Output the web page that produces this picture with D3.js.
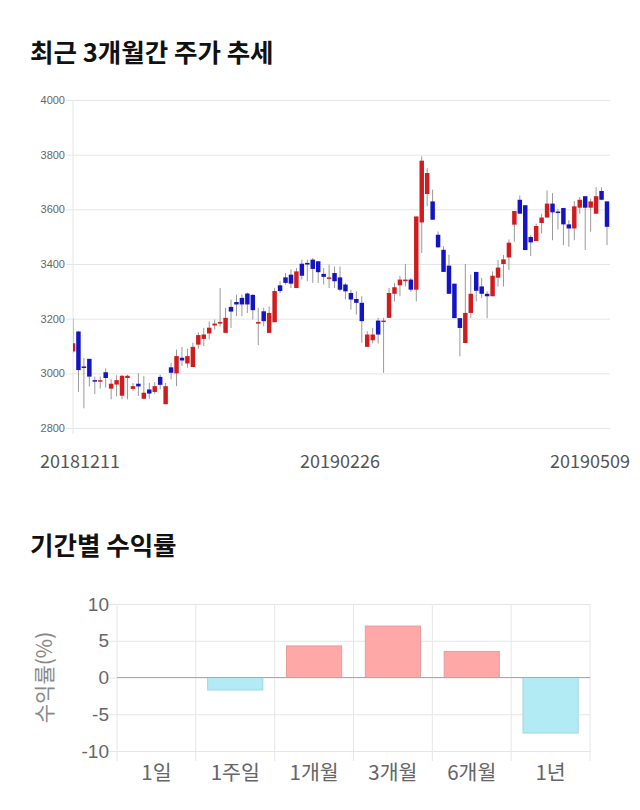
<!DOCTYPE html>
<html><head><meta charset="utf-8">
<script src="https://cdn.jsdelivr.net/npm/d3@7"></script>
<style>body{margin:0;background:#fff}svg{display:block}</style>
</head><body>
<svg id="c" width="640" height="810"></svg>
<script>
// ---- candle data ----
const dates = ["20181211","20181212","20181213","20181214","20181217","20181218","20181219","20181220","20181221","20181224","20181226","20181227","20181228",
"20190102","20190103","20190104","20190107","20190108","20190109","20190110","20190111","20190114","20190115","20190116","20190117","20190118","20190121","20190122","20190123","20190124","20190125","20190128","20190129","20190130","20190131",
"20190201","20190207","20190208","20190211","20190212","20190213","20190214","20190215","20190218","20190219","20190220","20190221","20190222","20190225","20190226","20190227","20190228",
"20190304","20190305","20190306","20190307","20190308","20190311","20190312","20190313","20190314","20190315","20190318","20190319","20190320","20190321","20190322","20190325","20190326","20190327","20190328","20190329",
"20190401","20190402","20190403","20190404","20190405","20190408","20190409","20190410","20190411","20190412","20190415","20190416","20190417","20190418","20190419","20190422","20190423","20190424","20190425","20190426","20190429","20190430",
"20190502","20190503","20190507","20190508","20190509"];
const open  = [3080,3153,3025,3053,2975,2970,3004,2944,2959,2918,2983,2943,2962,2907,2941,2932,2987,2887,3022,3000,3057,3036,3023,3105,3126,3146,3175,3182,3148,3243,3261,3276,3292,3287,3182,3227,3148,3187,3322,3351,3361,3312,3401,3404,3416,3410,3364,3346,3367,3351,3325,3294,3272,3258,3097,3121,3193,3188,3203,3291,3322,3337,3343,3306,3552,3656,3629,3507,3452,3394,3328,3202,3111,3221,3371,3318,3291,3282,3350,3400,3424,3544,3635,3615,3499,3484,3550,3570,3621,3592,3605,3545,3530,3606,3648,3606,3584,3667,3629];
const high  = [3200,3155,3057,3053,2988,2988,3018,2978,2993,2993,2995,2965,3000,2990,2965,2968,2995,2965,3038,3087,3096,3090,3112,3150,3166,3190,3197,3312,3240,3270,3288,3288,3295,3290,3240,3240,3245,3312,3337,3367,3380,3385,3416,3416,3422,3410,3385,3397,3391,3391,3331,3306,3300,3282,3154,3166,3203,3203,3312,3330,3357,3400,3349,3574,3794,3751,3672,3519,3465,3434,3328,3202,3400,3361,3371,3349,3300,3373,3415,3433,3490,3594,3651,3615,3505,3548,3584,3669,3659,3602,3605,3560,3630,3645,3648,3639,3681,3681,3629];
const low   = [3075,2932,2872,2952,2924,2944,2948,2905,2915,2905,2905,2935,2917,2905,2907,2925,2941,2887,2978,2953,3027,3020,3023,3090,3100,3124,3160,3172,3148,3166,3209,3209,3221,3197,3103,3172,3148,3187,3294,3325,3312,3312,3343,3337,3331,3331,3325,3312,3312,3300,3270,3233,3215,3112,3097,3109,3109,3002,3203,3263,3282,3318,3298,3263,3440,3611,3562,3459,3371,3291,3202,3062,3111,3202,3263,3276,3202,3282,3318,3318,3378,3481,3584,3451,3429,3484,3512,3570,3487,3526,3469,3463,3487,3584,3451,3518,3584,3633,3469];
const close = [3110,3012,3022,2988,2970,2975,2983,2962,2975,2991,2991,2953,2952,2929,2926,2953,2958,2953,3002,3063,3047,3063,3097,3140,3142,3167,3182,3188,3203,3226,3252,3252,3252,3231,3188,3191,3221,3301,3301,3331,3328,3373,3357,3398,3382,3370,3353,3351,3337,3306,3300,3270,3258,3191,3142,3142,3142,3193,3294,3315,3343,3343,3306,3574,3778,3733,3562,3461,3371,3291,3202,3166,3221,3291,3302,3291,3282,3357,3387,3417,3478,3594,3584,3451,3479,3539,3570,3621,3589,3588,3545,3530,3611,3635,3606,3629,3648,3635,3536];
const priceTicks = [2800,3000,3200,3400,3600,3800,4000];
const dateTicks = ["20181211","20190226","20190509"];

// ---- return data ----
const periods = ["1일","1주일","1개월","3개월","6개월","1년"];
const returns = [0,-1.7,4.3,7.0,3.55,-7.55];
const returnTicks = [-10,-5,0,5,10];

const svg = d3.select("#c");
const KR = "'Noto Sans CJK KR','Noto Sans',sans-serif";
const NUM = "'Liberation Sans',Arial,sans-serif";

// titles
svg.append("text").attr("x",30).attr("y",62).text("최근 3개월간 주가 추세")
  .attr("font-family",KR).attr("font-weight","bold").attr("font-size",25.5).attr("fill","#111");
svg.append("text").attr("x",30).attr("y",555).text("기간별 수익률")
  .attr("font-family",KR).attr("font-weight","bold").attr("font-size",25.5).attr("fill","#111");

// ---- candle chart ----
const L = 73, R = 610, T = 100, B = 428;
const x = d3.scaleLinear().domain([0, dates.length-1]).range([73, 607]);
const y = d3.scaleLinear().domain([2800,4000]).range([B,T]);
const g = svg.append("g");
const yAx = g.append("g").attr("transform",`translate(${L},0)`)
  .call(d3.axisLeft(y).tickValues(priceTicks).tickFormat(d3.format("d")).tickSize(-(R-L)).tickPadding(3).tickSizeOuter(0));
yAx.select(".domain").remove();
yAx.selectAll(".tick line").attr("stroke","#e6e6e6").attr("x1",-7);
yAx.selectAll(".tick text").attr("font-family",NUM).attr("font-size",11).attr("fill","#666").attr("dx",-5);
g.append("line").attr("x1",L).attr("x2",L).attr("y1",T).attr("y2",B+6).attr("stroke","#e6e6e6");

svg.append("clipPath").attr("id","clip").append("rect").attr("x",L).attr("y",T-20).attr("width",R-L).attr("height",B-T+40);
const cg = g.append("g").attr("clip-path","url(#clip)");
const idx = d3.range(dates.length);
const step = x(1)-x(0), bw = step*0.82;
cg.selectAll("line.w").data(idx).join("line").attr("class","w")
  .attr("x1",i=>x(i)).attr("x2",i=>x(i)).attr("y1",i=>y(high[i])).attr("y2",i=>y(low[i]))
  .attr("stroke","#999").attr("stroke-width",1);
cg.selectAll("rect.b").data(idx).join("rect").attr("class","b")
  .attr("x",i=>x(i)-bw/2).attr("width",bw)
  .attr("y",i=>y(Math.max(open[i],close[i])))
  .attr("height",i=>Math.max(1.5, Math.abs(y(open[i])-y(close[i]))))
  .attr("fill",i=>close[i]>=open[i]?"#d01c1f":"#1414c4");

// date labels
dateTicks.forEach(d=>{
  const i = dates.indexOf(d);
  const t = g.append("text").attr("y",468).text(d)
    .attr("font-family",KR).attr("font-size",18).attr("fill","#555").attr("text-anchor","middle");
  const w = t.node().getComputedTextLength();
  let cx = Math.min(Math.max(x(i), 40 + w/2), 630 - w/2);
  t.attr("x",cx);
});

// ---- return bar chart ----
const bL = 117, bR = 590, bT = 604, bB = 751;
const xb = d3.scaleBand().domain(periods).range([bL,bR]).paddingInner(0.3).paddingOuter(0.15);
const yb = d3.scaleLinear().domain([-10,10]).range([bB,bT]);
const bg = svg.append("g");
const yb_ax = bg.append("g").attr("transform",`translate(${bL},0)`)
  .call(d3.axisLeft(yb).tickValues(returnTicks).tickFormat(d3.format("d")).tickSize(-(bR-bL)).tickPadding(4).tickSizeOuter(0));
yb_ax.select(".domain").remove();
yb_ax.selectAll(".tick line").attr("stroke","#e6e6e6").attr("x1",-8);
yb_ax.selectAll(".tick text").attr("font-family",NUM).attr("font-size",19).attr("fill","#666").attr("dx",-4)
  .text(d=>String(d));
// vertical grid lines at category boundaries
const bounds = periods.map(p=>xb(p)-xb.step()*xb.paddingInner()/2).concat([bR]);
bounds[0] = bL;
bg.selectAll("line.vg").data(bounds).join("line").attr("class","vg")
  .attr("x1",d=>d).attr("x2",d=>d).attr("y1",bT).attr("y2",bB+10).attr("stroke","#e6e6e6");
bg.selectAll("rect.r").data(periods).join("rect").attr("class","r")
  .attr("x",p=>xb(p)).attr("width",xb.bandwidth())
  .attr("y",(p,i)=>yb(Math.max(0,returns[i])))
  .attr("height",(p,i)=>Math.abs(yb(returns[i])-yb(0)))
  .attr("fill",(p,i)=>returns[i]>=0?"#ffa8a8":"#b3ebf4")
  .attr("stroke",(p,i)=>returns[i]>=0?"#eb9c9c":"#9fd7e3").attr("stroke-width",1);
bg.append("line").attr("x1",bL).attr("x2",bR).attr("y1",yb(0)).attr("y2",yb(0)).attr("stroke","#aaa");
bg.selectAll("text.xl").data(periods).join("text").attr("class","xl")
  .attr("x",p=>xb(p)+xb.bandwidth()/2).attr("y",780).text(p=>p)
  .attr("text-anchor","middle").attr("font-family",KR).attr("font-size",20.5).attr("fill","#666");
bg.append("text").attr("transform",`translate(52,${(bT+bB)/2}) rotate(-90)`).text("수익률(%)")
  .attr("text-anchor","middle").attr("font-family",KR).attr("font-size",21).attr("fill","#888");
</script>
</body></html>
